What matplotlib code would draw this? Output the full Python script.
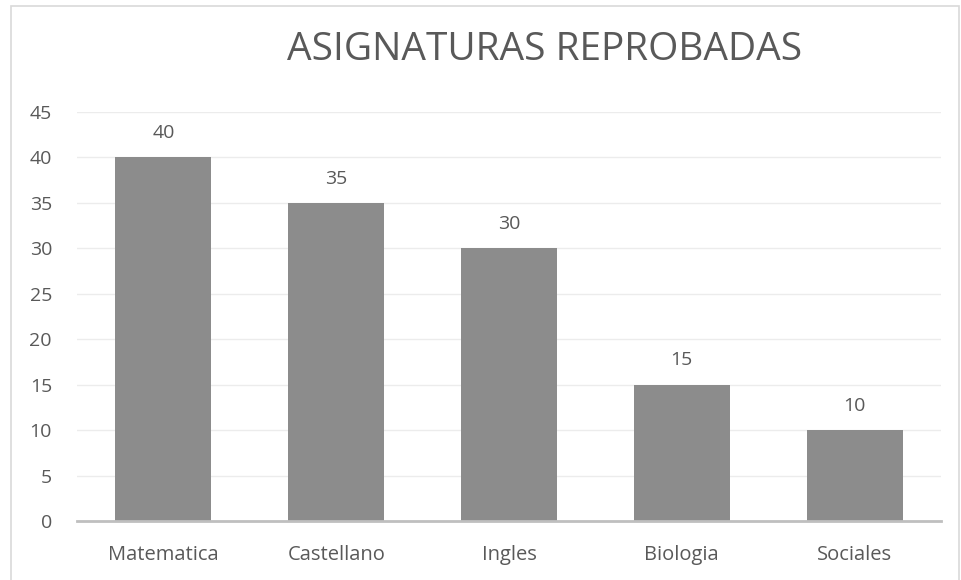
import matplotlib
matplotlib.use("Agg")
import matplotlib.pyplot as plt
from matplotlib.patches import Rectangle

categories = ["Matematica", "Castellano", "Ingles", "Biologia", "Sociales"]
values = [40, 35, 30, 15, 10]
yticks = [0, 5, 10, 15, 20, 25, 30, 35, 40, 45]
title = "ASIGNATURAS REPROBADAS"

plt.rcParams['font.family'] = ['Open Sans', 'DejaVu Sans']
txt = "#595959"

fig = plt.figure(figsize=(9.61, 5.8), dpi=100)
fig.patches.append(Rectangle((11/961, -0.01), (948/961), 1 - 6/580 + 0.01,
                             transform=fig.transFigure, fill=False,
                             edgecolor="#d9d9d9", linewidth=1.2))
ax = fig.add_axes([77/961, 1 - 521/580, (941 - 77)/961, (521 - 112)/580])
x = list(range(len(categories)))
bars = ax.bar(x, values, width=0.555, color="#8c8c8c", zorder=2)
ax.set_xlim(-0.5, len(categories) - 0.5)
ax.set_ylim(0, 45)
ax.set_yticks(yticks)
ax.set_yticklabels([str(t) for t in yticks], color=txt, fontsize=14)
ax.set_xticks(x)
ax.set_xticklabels(categories, color=txt, fontsize=14.5)
ax.tick_params(axis='both', length=0)
ax.tick_params(axis='y', pad=18)
ax.tick_params(axis='x', pad=17)
ax.grid(axis='y', color="#ececec", linewidth=1, zorder=0)
for s in ["top", "right", "left"]:
    ax.spines[s].set_visible(False)
ax.spines["bottom"].set_color("#bfbfbf")
ax.spines["bottom"].set_linewidth(2)
ax.spines["bottom"].set_zorder(3)
for xi, v in zip(x, values):
    ax.annotate(str(v), (xi, v), xytext=(0, 11), textcoords="offset points",
                ha="center", va="bottom", color=txt, fontsize=14)
fig.text(545/961, 1 - 50/580, title, ha="center", va="center", color=txt,
         fontsize=28)
fig.savefig("out.png", dpi=100)
